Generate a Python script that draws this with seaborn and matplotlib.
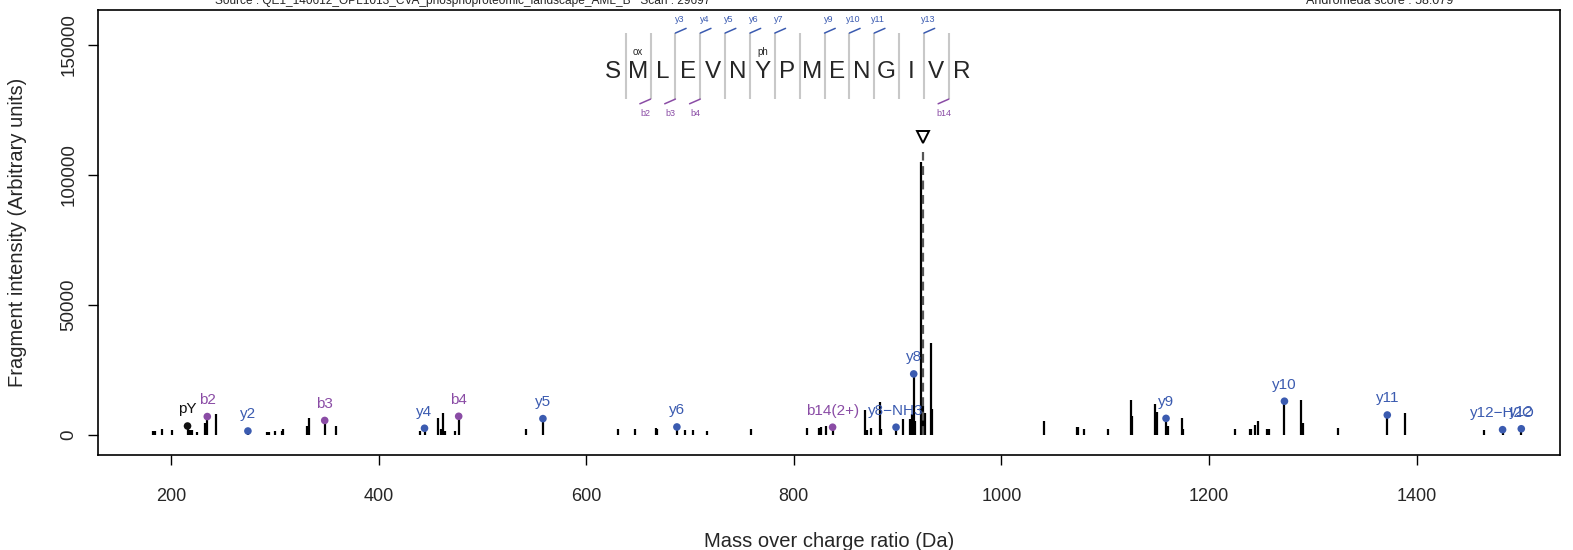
import numpy as np
import pandas as pd
import matplotlib
matplotlib.use("Agg")
import matplotlib.pyplot as plt
import seaborn as sns

# ------------------------------------------------------------
# Données du spectre
# ------------------------------------------------------------
# pics non annotés (m/z, intensité)
peak_mz = [182.5, 184.7, 191.1, 200.8, 218.4, 220.0, 225.0, 232.5, 243.5,
           292.3, 294.6, 300.4, 306.8, 308.4, 330.8, 333.0, 358.7,
           440.0, 457.6, 460.0, 462.5, 464.0, 473.7, 541.8,
           630.5, 646.6, 667.0, 668.0, 695.5, 702.5, 716.2, 758.6,
           812.3, 824.3, 825.8, 830.6, 868.2, 870.8, 874.0, 883.0, 884.3,
           904.8, 912.0, 913.5, 917.0, 922.8, 924.0, 926.5, 932.1, 933.2,
           1040.5, 1072.8, 1074.1, 1079.8, 1102.3, 1124.8, 1125.8, 1148.2,
           1149.5, 1160.0, 1174.3, 1175.0, 1224.7, 1239.4, 1240.7, 1244.5,
           1247.1, 1255.8, 1258.1, 1288.5, 1290.0, 1324.5, 1388.7, 1464.8]
peak_int = [1500, 1500, 2500, 1800, 1800, 1800, 1300, 4700, 8200,
            1300, 1300, 1500, 1500, 2500, 3400, 6400, 3300,
            1500, 6400, 2500, 8600, 1500, 1500, 2200,
            2200, 2200, 2600, 2400, 1900, 1900, 1500, 2200,
            2700, 2700, 3000, 3300, 9600, 2000, 2700, 12700, 2500,
            6000, 6000, 8000, 5500, 105000, 11000, 8500, 35400, 10000,
            5500, 2950, 2950, 2400, 2400, 13500, 7200, 11900,
            9000, 3500, 6500, 2500, 2400, 2400, 2400, 3700,
            5400, 2400, 2400, 13500, 4500, 2700, 8400, 2050]

# ions annotés
ion_labels = ["pY", "b2", "y2", "b3", "y4", "b4", "y5", "y6", "b14(2+)",
              "y8\u2212NH3", "y8", "y9", "y10", "y11", "y12\u2212H2O", "y12"]
ion_mz = [216.04, 235.07, 274.19, 348.16, 444.29, 477.20, 558.34, 687.38,
          837.33, 898.44, 915.47, 1158.50, 1272.55, 1371.61, 1482.65, 1500.66]
ion_int = [3460, 7100, 1540, 5600, 2600, 7200, 6300, 3100,
           3000, 3000, 23500, 6400, 13000, 7700, 2050, 2400]
ion_kind = ["imm", "b", "y", "b", "y", "b", "y", "y",
            "b", "y", "y", "y", "y", "y", "y", "y"]

# peptide
sequence = list("SMLEVNYPMENGIVR")
y_sites = [3, 4, 5, 6, 7, 9, 10, 11, 13]
b_sites = [2, 3, 4, 14]
mods = {2: "ox", 7: "ph"}

precursor_mz = 924.38
source_txt = "Source : QE1_140612_OPL1013_CVA_phosphoproteomic_landscape_AML_B   Scan : 29697"
score_txt = "Andromeda score : 58.079"

# ------------------------------------------------------------
# Style
# ------------------------------------------------------------
sns.set_theme(style="ticks")
plt.rcParams["font.family"] = ["Liberation Sans", "DejaVu Sans"]
colors = {"y": "#3B5BB0", "b": "#8A4CA5", "imm": "#111111"}

fig = plt.figure(figsize=(15.73, 5.5), dpi=100)
ax = fig.add_axes([0.0623, 0.1727, 0.9294, 0.8091])

# pics
ax.vlines(peak_mz, 0, peak_int, color="black", lw=1.6)
ax.vlines(ion_mz, 0, ion_int, color="black", lw=1.6)

ions = pd.DataFrame({"mz": ion_mz, "I": ion_int, "kind": ion_kind, "lab": ion_labels})
sns.scatterplot(data=ions, x="mz", y="I", hue="kind", palette=colors, s=30,
                edgecolor="none", legend=False, ax=ax, zorder=3)
for _, r in ions.iterrows():
    ax.annotate(r["lab"], (r["mz"], r["I"]), xytext=(0, 12), textcoords="offset points",
                ha="center", va="center", fontsize=11, color=colors[r["kind"]])

# précurseur
ax.vlines(precursor_mz, 0, 108800, color="#555555", lw=1.6, linestyles=(0, (4, 2.5)))
ax.plot([precursor_mz], [114600], marker="v", ms=9, mfc="white", mec="black", mew=1.4)

# séquence du peptide
x0, dx = 626.1, 23.94
y_seq, sep_lo, sep_hi = 139700, 129200, 154600
for i, aa in enumerate(sequence):
    ax.text(x0 + i * dx, y_seq, aa, ha="center", va="center", fontsize=17.5)
    if (i + 1) in mods:
        ax.text(x0 + i * dx, 147300, mods[i + 1], ha="center", va="center", fontsize=7)
for k in range(1, len(sequence)):
    xs = x0 + (k - 0.5) * dx
    ax.plot([xs, xs], [sep_lo, sep_hi], color="#C8C8C8", lw=1.5, solid_capstyle="butt")
    if k in y_sites:
        ax.plot([xs, xs + 10.3], [sep_hi, sep_hi + 1800], color=colors["y"], lw=1.1)
        ax.text(xs + 3.9, 159900, f"y{k}", ha="center", va="center",
                fontsize=6.5, color=colors["y"])
    if k in b_sites:
        ax.plot([xs, xs - 10.3], [sep_lo, sep_lo - 1800], color=colors["b"], lw=1.1)
        ax.text(xs - 4.8, 123850, f"b{k}", ha="center", va="center",
                fontsize=6.5, color=colors["b"])

# axes
ax.set_xlim(129.8, 1537.9)
ax.set_ylim(-7692, 163462)
ax.set_xticks([200, 400, 600, 800, 1000, 1200, 1400])
ax.set_yticks([0, 50000, 100000, 150000])
ax.set_yticklabels(["0", "50000", "100000", "150000"], rotation=90, va="center")
ax.tick_params(axis="x", length=7, width=1, pad=17, labelsize=13, color="black")
ax.tick_params(axis="y", length=7, width=1, pad=8, labelsize=13.5, color="black")
for sp in ax.spines.values():
    sp.set_visible(True)
    sp.set_color("black")
    sp.set_linewidth(1.2)
ax.set_xlabel("Mass over charge ratio (Da)", fontsize=14.5, labelpad=19)
ax.set_ylabel("Fragment intensity (Arbitrary units)", fontsize=14.5, labelpad=24)

fig.text(0.294, 1 - 1 / 550, source_txt, ha="center", va="center", fontsize=8.6)
fig.text(0.877, 1 - 1 / 550, score_txt, ha="center", va="center", fontsize=9)

fig.savefig("out.png", dpi=100)
